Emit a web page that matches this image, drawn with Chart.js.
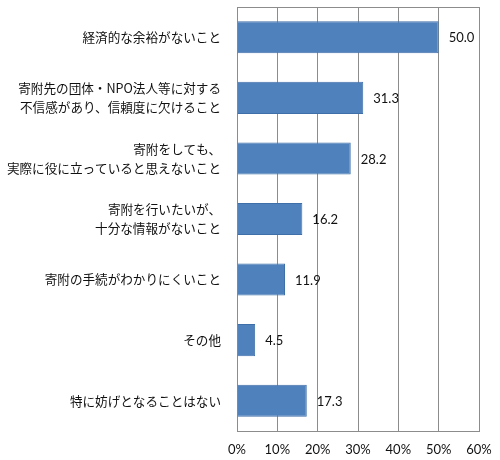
<!DOCTYPE html>
<html>
<head>
<meta charset="utf-8">
<script src="https://cdn.jsdelivr.net/npm/chart.js@4"></script>
<style>
  body { margin: 0; background: #fff; }
</style>
</head>
<body>
<canvas id="bar-chart" width="500" height="460"></canvas>
<script>
// reasons given for not donating (%)
const reasons = [
  ["経済的な余裕がないこと"],
  ["寄附先の団体・NPO法人等に対する", "不信感があり、信頼度に欠けること"],
  ["寄附をしても、", "実際に役に立っていると思えないこと"],
  ["寄附を行いたいが、", "十分な情報がないこと"],
  ["寄附の手続がわかりにくいこと"],
  ["その他"],
  ["特に妨げとなることはない"]
];
const percents = [50.0, 31.3, 28.2, 16.2, 11.9, 4.5, 17.3];
const xTicks = [0, 10, 20, 30, 40, 50, 60];

const gridGray = "#8c8c8c";

// value labels to the right of each bar
const valueLabels = {
  id: "valueLabels",
  afterDatasetsDraw(chart) {
    const ctx = chart.ctx;
    const meta = chart.getDatasetMeta(0);
    ctx.save();
    ctx.font = "13px Lato, 'Liberation Sans', sans-serif";
    ctx.fillStyle = "#111";
    ctx.textBaseline = "middle";
    ctx.textAlign = "left";
    meta.data.forEach((bar, i) => {
      ctx.fillText(percents[i].toFixed(1), bar.x + 10, bar.y + 1);
    });
    ctx.restore();
  }
};

// box round the plot area
const plotBox = {
  id: "plotBox",
  beforeDatasetsDraw(chart) {
    const a = chart.chartArea;
    const ctx = chart.ctx;
    ctx.save();
    ctx.strokeStyle = gridGray;
    ctx.lineWidth = 1;
    ctx.strokeRect(Math.round(a.left) + 0.5, Math.round(a.top) + 0.5,
      Math.round(a.right - a.left), Math.round(a.bottom - a.top));
    ctx.restore();
  }
};

new Chart(document.getElementById("bar-chart"), {
  type: "bar",
  data: {
    labels: reasons,
    datasets: [{
      data: percents,
      backgroundColor: "#4f81bd",
      borderColor: "#3f6fa9",
      borderWidth: 1,
      borderSkipped: "left",
      barPercentage: 0.53,
      categoryPercentage: 1
    }]
  },
  options: {
    indexAxis: "y",
    responsive: false,
    animation: false,
    devicePixelRatio: 1,
    layout: { padding: { top: 7, right: 21, bottom: 0, left: 0 } },
    plugins: {
      legend: { display: false },
      tooltip: { enabled: false }
    },
    scales: {
      x: {
        min: 0,
        max: 60,
        afterBuildTicks: (axis) => { axis.ticks = xTicks.map(v => ({ value: v })); },
        afterFit: (axis) => {
          axis.height = 29;
          axis.paddingLeft = 0;
          axis.paddingRight = 0;
        },
        grid: { color: gridGray, drawTicks: false },
        border: { color: gridGray },
        ticks: {
          padding: 11,
          color: "#111",
          font: { family: "Lato, 'Liberation Sans', sans-serif", size: 13 },
          callback: (v) => v + "%"
        }
      },
      y: {
        afterFit: (axis) => {
          axis.width = 237;
          axis.paddingTop = 0;
          axis.paddingBottom = 0;
        },
        grid: { display: false },
        border: { color: gridGray },
        ticks: {
          padding: 8,
          color: "#111",
          font: { family: "'Noto Sans CJK JP', sans-serif", size: 12.6, lineHeight: 1.5 }
        }
      }
    }
  },
  plugins: [plotBox, valueLabels]
});
</script>
</body>
</html>
